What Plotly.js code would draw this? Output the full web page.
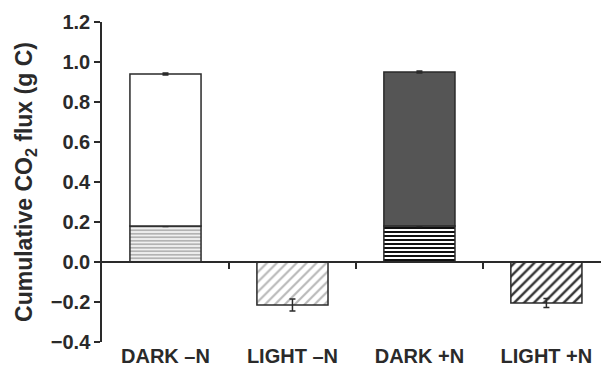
<!DOCTYPE html>
<html>
<head>
<meta charset="utf-8">
<script src="https://cdn.plot.ly/plotly-3.0.1.min.js"></script>
<style>html,body{margin:0;padding:0;background:#fff;}#chart{width:601px;height:369px;}</style>
</head>
<body>
<div id="chart"></div>
<script>
const categories = ["DARK \u2013N", "LIGHT \u2013N", "DARK +N", "LIGHT +N"];
const lowerValues = [0.18, -0.215, 0.18, -0.205];
const lowerErrors = [0.003, 0.03, 0.003, 0.023];
const upperValues = [0.76, null, 0.77, null];
const upperErrors = [0.004, null, 0.004, null];
const yTickVals = [-0.4, -0.2, 0, 0.2, 0.4, 0.6, 0.8, 1.0, 1.2];
const boundaryTicks = [0.5, 1.5, 2.5];

const font = "Liberation Sans, Arial, sans-serif";
const dark = "#2a2a2a";

// hatch styles per category (lower segment)
const hatchShape = ["-", "/", "-", "/"];
const hatchColor = ["#b3b3b3", "#b8b8b8", "#111111", "#333333"];
const hatchSize = [3.5, 7, 4, 7];
const hatchSolidity = [0.6, 0.3, 0.5, 0.35];
const upperFill = ["#ffffff", null, "#555555", null];

const traces = [];
categories.forEach((c, i) => {
  traces.push({
    type: "bar", x: [i], y: [lowerValues[i]], width: 0.56,
    marker: {
      color: "#ffffff",
      line: {color: dark, width: 1.5},
      pattern: {shape: hatchShape[i], fgcolor: hatchColor[i], bgcolor: "#ffffff", size: hatchSize[i], solidity: hatchSolidity[i]}
    },
    error_y: {type: "data", array: [lowerErrors[i]], visible: true, color: dark, thickness: 1.5, width: 3},
    showlegend: false, hoverinfo: "skip"
  });
});
categories.forEach((c, i) => {
  if (upperValues[i] === null) return;
  traces.push({
    type: "bar", x: [i], y: [upperValues[i]], width: 0.56,
    marker: {color: upperFill[i], line: {color: dark, width: 1.5}},
    error_y: {type: "data", array: [upperErrors[i]], visible: true, color: dark, thickness: 2, width: 3},
    showlegend: false, hoverinfo: "skip"
  });
});
traces.push({type: "scatter", x: [], y: [], xaxis: "x2", yaxis: "y", showlegend: false, hoverinfo: "skip"});

const layout = {
  width: 601, height: 369,
  margin: {l: 102, r: 0, t: 22, b: 27, pad: 0},
  paper_bgcolor: "#fff", plot_bgcolor: "#fff",
  barmode: "relative",
  showlegend: false,
  font: {family: font, color: dark},
  xaxis: {
    type: "linear", range: [-0.5, 3.43],
    tickvals: [0,1,2,3], ticktext: categories,
    showline: false, showgrid: false, zeroline: false, ticks: "",
    tickfont: {family: font, size: 20, weight: 700, color: dark},
    automargin: false, fixedrange: true
  },
  xaxis2: {
    type: "linear", range: [-0.5, 3.43], overlaying: "x", anchor: "free", position: 0.25, side: "bottom",
    tickvals: boundaryTicks, showticklabels: false, ticks: "outside", ticklen: 6, tickwidth: 1.5, tickcolor: dark,
    showline: true, linecolor: dark, linewidth: 1.5, showgrid: false, zeroline: false, automargin: false
  },
  yaxis: {
    range: [-0.4, 1.2], tickvals: yTickVals, tickformat: ".1f",
    ticks: "outside", ticklen: 6, tickwidth: 1.5, tickcolor: dark,
    showline: true, linecolor: dark, linewidth: 1.5, showgrid: false, zeroline: false,
    tickfont: {family: font, size: 20, weight: 700, color: dark},
    title: {text: "Cumulative CO<sub>2</sub> flux (g C)", font: {family: font, size: 23, weight: 700, color: dark}, standoff: 12},
    automargin: false
  }
};
Plotly.newPlot("chart", traces, layout, {displayModeBar: false});
</script>
</body>
</html>
